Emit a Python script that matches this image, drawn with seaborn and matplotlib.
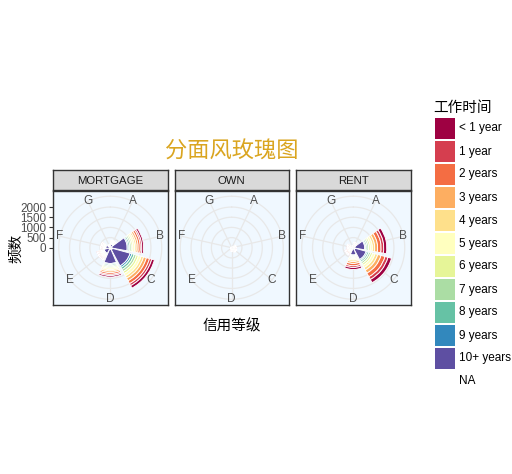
import numpy as np
import pandas as pd
import matplotlib
matplotlib.use("Agg")
import matplotlib.pyplot as plt
from matplotlib.patches import Rectangle
import seaborn as sns

# ---------------- data ----------------
grades = ["A", "B", "C", "D", "E", "F", "G"]
emp_levels = ["< 1 year", "1 year", "2 years", "3 years", "4 years", "5 years",
              "6 years", "7 years", "8 years", "9 years", "10+ years", "NA"]
ownerships = ["MORTGAGE", "OWN", "RENT"]

# rows = emp_levels, columns = grades A..G
mortgage_counts = [
    [23, 88, 135, 73, 42, 29, 10],
    [19, 74, 113, 61, 35, 24, 8],
    [27, 103, 158, 84, 49, 34, 11],
    [25, 96, 146, 79, 46, 31, 10],
    [21, 81, 124, 66, 38, 26, 9],
    [23, 88, 135, 73, 42, 29, 10],
    [19, 74, 112, 60, 35, 24, 8],
    [19, 74, 113, 60, 35, 24, 8],
    [19, 72, 112, 60, 35, 24, 8],
    [15, 58, 90, 52, 28, 19, 6],
    [152, 750, 900, 700, 280, 192, 64],
    [18, 82, 112, 72, 35, 24, 8],
]
own_counts = [
    [3, 15, 18, 12, 6, 4, 1],
    [2, 12, 15, 10, 4, 3, 1],
    [3, 16, 19, 12, 6, 4, 1],
    [3, 15, 17, 11, 5, 3, 1],
    [2, 12, 14, 9, 4, 3, 1],
    [2, 12, 15, 10, 5, 3, 1],
    [2, 11, 13, 8, 4, 2, 1],
    [2, 11, 13, 9, 4, 2, 1],
    [2, 11, 13, 8, 4, 3, 1],
    [2, 9, 11, 7, 3, 2, 1],
    [15, 84, 99, 65, 31, 19, 4],
    [2, 12, 13, 9, 4, 2, 1],
]
rent_counts = [
    [28, 150, 178, 99, 44, 32, 11],
    [24, 128, 151, 84, 37, 27, 9],
    [32, 172, 205, 114, 51, 37, 13],
    [27, 143, 169, 94, 42, 30, 10],
    [21, 112, 134, 75, 33, 24, 8],
    [20, 105, 125, 69, 31, 22, 8],
    [15, 83, 98, 54, 24, 18, 6],
    [14, 75, 90, 49, 22, 16, 6],
    [13, 67, 80, 45, 20, 14, 5],
    [10, 52, 63, 35, 15, 11, 4],
    [63, 480, 560, 300, 99, 73, 25],
    [13, 81, 96, 53, 22, 16, 5],
]
radial_breaks = [0, 500, 1000, 1500, 2000]

title_text = "分面风玫瑰图"
x_title = "信用等级"
y_title = "频数"
legend_title = "工作时间"

# ---------------- styling ----------------
sns.set_theme(style="white")
plt.rcParams["font.family"] = ["Liberation Sans", "Noto Sans CJK SC", "DejaVu Sans"]

spectral = ["#9E0142", "#D53E4F", "#F46D43", "#FDAE61", "#FEE08B", "#FFFFBF",
            "#E6F598", "#ABDDA4", "#66C2A5", "#3288BD", "#5E4FA2"]
fill_colors = dict(zip(emp_levels, spectral + ["#FFFFFF"]))

rows = []
for own, tab in zip(ownerships, [mortgage_counts, own_counts, rent_counts]):
    for ei, emp in enumerate(emp_levels):
        for gi, g in enumerate(grades):
            rows.append((own, g, emp, tab[ei][gi]))
df = pd.DataFrame(rows, columns=["home_ownership", "grade", "emp_length", "n"])

totals = df.groupby(["home_ownership", "grade"])["n"].sum()
rmax = totals.max()

W, H = 512, 474
fig = plt.figure(figsize=(W / 100, H / 100), dpi=100)
fig.patch.set_facecolor("white")


def frect(x, y, w, h):
    return [x / W, 1 - (y + h) / H, w / W, h / H]


panel_x = [53, 174.5, 296]
panel_top = 190.5
P = 114.5
strip_h = 20
ntheta = len(grades)
step = 2 * np.pi / ntheta
grid_col = "#E8E8E8"
stack_order = emp_levels[::-1]  # NA innermost, "< 1 year" outermost

for i, own in enumerate(ownerships):
    x0 = panel_x[i]
    # panel background
    bg = fig.add_axes(frect(x0, panel_top, P, P))
    bg.set_facecolor("#F0F8FF")
    bg.set_xlim(-1.25 * rmax, 1.25 * rmax)
    bg.set_ylim(-1.25 * rmax, 1.25 * rmax)
    bg.set_xticks([])
    bg.grid(False)
    if i == 0:
        bg.set_yticks(radial_breaks)
        bg.set_yticklabels([str(b) for b in radial_breaks])
        bg.tick_params(axis="y", left=True, length=3.2, width=0.8, color="#333333",
                       pad=1.5, labelsize=8.4, labelcolor="#4D4D4D")
    else:
        bg.set_yticks([])
    for s in bg.spines.values():
        s.set_color("#333333")
        s.set_linewidth(1.0)

    # strip
    st = fig.add_axes(frect(x0, panel_top - strip_h, P, strip_h))
    st.set_facecolor("#D9D9D9")
    st.set_xticks([]); st.set_yticks([])
    for s in st.spines.values():
        s.set_color("#333333")
        s.set_linewidth(1.0)
    st.text(0.5, 0.47, own, ha="center", va="center", fontsize=8.2,
            color="#1A1A1A", transform=st.transAxes)

    # polar axes
    d = 0.96 * P
    pax = fig.add_axes(frect(x0 + 0.02 * P, panel_top + 0.02 * P, d, d),
                       projection="polar")
    pax.set_theta_zero_location("N")
    pax.set_theta_direction(-1)
    pax.set_ylim(0, 1.2 * rmax)
    pax.set_axis_off()

    theta = (np.arange(ntheta) + 0.5) * step
    circ = np.linspace(0, 2 * np.pi, 361)
    for b in radial_breaks[1:]:
        pax.plot(circ, np.full_like(circ, b), color=grid_col, lw=0.9, zorder=0)
    pax.plot(circ, np.full_like(circ, 1.125 * rmax), color=grid_col, lw=0.9, zorder=0)
    for t in theta:
        pax.plot([t, t], [0, 1.125 * rmax], color=grid_col, lw=0.9, zorder=0)

    sub = df[df["home_ownership"] == own].pivot(index="grade", columns="emp_length",
                                                values="n").loc[grades]
    bottom = np.zeros(ntheta)
    for emp in stack_order:
        vals = sub[emp].values.astype(float)
        pax.bar(theta, vals, width=0.9 * step, bottom=bottom,
                color=fill_colors[emp], edgecolor="white", linewidth=0.65, zorder=2)
        bottom = bottom + vals

    for t, g in zip(theta, grades):
        pax.text(t, 1.125 * rmax, g, ha="center", va="center", fontsize=8.6,
                 color="#4D4D4D", zorder=3)

# overlay for titles and legend
ov = fig.add_axes([0, 0, 1, 1])
ov.set_xlim(0, W)
ov.set_ylim(H, 0)
ov.set_axis_off()
ov.patch.set_alpha(0)

ov.text(232, 152, title_text, ha="center", va="center", fontsize=16, color="#DAA520")
ov.text(232, 326, x_title, ha="center", va="center", fontsize=10.5, color="black")
ov.text(16, 248, y_title, ha="center", va="center", fontsize=10.5, color="black",
        rotation=90)

ov.text(433, 108, legend_title, ha="left", va="center", fontsize=10.5, color="black")
key_top = 118
key_step = 23
for k, emp in enumerate(emp_levels):
    y = key_top + k * key_step
    ov.add_patch(Rectangle((435, y), 20, 21, facecolor=fill_colors[emp],
                           edgecolor="none"))
    ov.text(459, y + 10.5, emp, ha="left", va="center", fontsize=8.5, color="black")

fig.savefig("out.png", dpi=100, facecolor="white")
